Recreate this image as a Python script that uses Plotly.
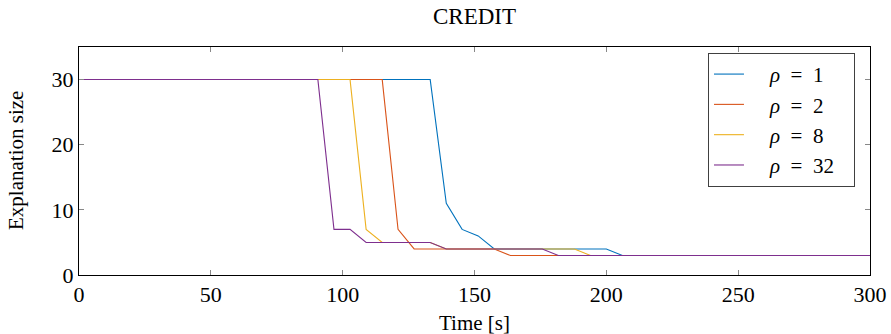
import plotly.graph_objects as go

# Data
t_rho1 = [0, 133.2, 139.3, 145.3, 151.4, 157.5, 200.0, 206.1, 300]
v_rho1 = [30, 30, 11, 7, 6, 4, 4, 3, 3]

t_rho2 = [0, 115.0, 121.0, 127.1, 157.5, 163.6, 300]
v_rho2 = [30, 30, 7, 4, 4, 3, 3]

t_rho8 = [0, 102.8, 108.9, 115.0, 133.2, 139.3, 187.9, 194.0, 300]
v_rho8 = [30, 30, 7, 5, 5, 4, 4, 3, 3]

t_rho32 = [0, 90.6, 96.7, 102.8, 108.9, 133.2, 139.3, 175.7, 181.8, 300]
v_rho32 = [30, 30, 7, 7, 5, 5, 4, 4, 3, 3]

sp = "\u2002"
lead = "\u2002\u2002"
trail = "\u2002\u2009"
series_names = [f"{lead}<i>ρ</i>{sp}={sp}1", f"{lead}<i>ρ</i>{sp}={sp}2",
                f"{lead}<i>ρ</i>{sp}={sp}8", f"{lead}<i>ρ</i>{sp}={sp}32{trail}"]
colors = ["#0072BD", "#D95319", "#EDB120", "#7E2F8E"]

x_ticks = [0, 50, 100, 150, 200, 250, 300]
y_ticks = [0, 10, 20, 30]

fig = go.Figure()
for (t, v), name, c in zip(
    [(t_rho1, v_rho1), (t_rho2, v_rho2), (t_rho8, v_rho8), (t_rho32, v_rho32)],
    series_names, colors):
    fig.add_trace(go.Scatter(x=t, y=v, mode="lines", name=name,
                             line=dict(color=c, width=1.1)))

ff = "Liberation Serif"
fs = 21
fig.update_layout(
    width=891, height=334,
    margin=dict(l=79, r=21, t=47, b=59),
    paper_bgcolor="white", plot_bgcolor="white",
    font=dict(family=ff, size=fs, color="black"),
    title=dict(text="CREDIT", x=0.5, xanchor="center", y=1 - 16 / 334, yanchor="middle",
               xref="paper", font=dict(family=ff, size=23, color="black")),
    legend=dict(x=0.981, y=0.974, xanchor="right", yanchor="top",
                bordercolor="#404040", borderwidth=1, bgcolor="white",
                font=dict(family=ff, size=21), tracegroupgap=0),
    showlegend=True,
    annotations=[
        dict(text="Time [s]", x=0.5, xref="paper", y=-48 / 228, yref="paper",
             xanchor="center", yanchor="middle", showarrow=False,
             font=dict(family=ff, size=fs)),
        dict(text="Explanation size", x=-63 / 791, xref="paper", y=0.5, yref="paper",
             xanchor="center", yanchor="middle", showarrow=False, textangle=-90,
             font=dict(family=ff, size=fs)),
    ],
)
fig.update_xaxes(
    range=[0, 300], tickvals=x_ticks, ticktext=[str(v) for v in x_ticks],
    ticks="inside", ticklen=5, tickcolor="#888888", showgrid=False, zeroline=False,
    showline=True, linecolor="black", linewidth=1, mirror="allticks",
    automargin=False, tickfont=dict(family=ff, size=22),
)
fig.update_yaxes(
    range=[0, 35], tickvals=y_ticks, ticktext=[str(v) for v in y_ticks],
    ticks="inside", ticklen=5, tickcolor="#888888", showgrid=False, zeroline=False,
    showline=True, linecolor="black", linewidth=1, mirror="allticks",
    automargin=False, tickfont=dict(family=ff, size=22),
)

fig.write_html("out.html",
               config={"displayModeBar": False},
               post_script="document.body.style.margin='0';document.body.style.padding='0';")
